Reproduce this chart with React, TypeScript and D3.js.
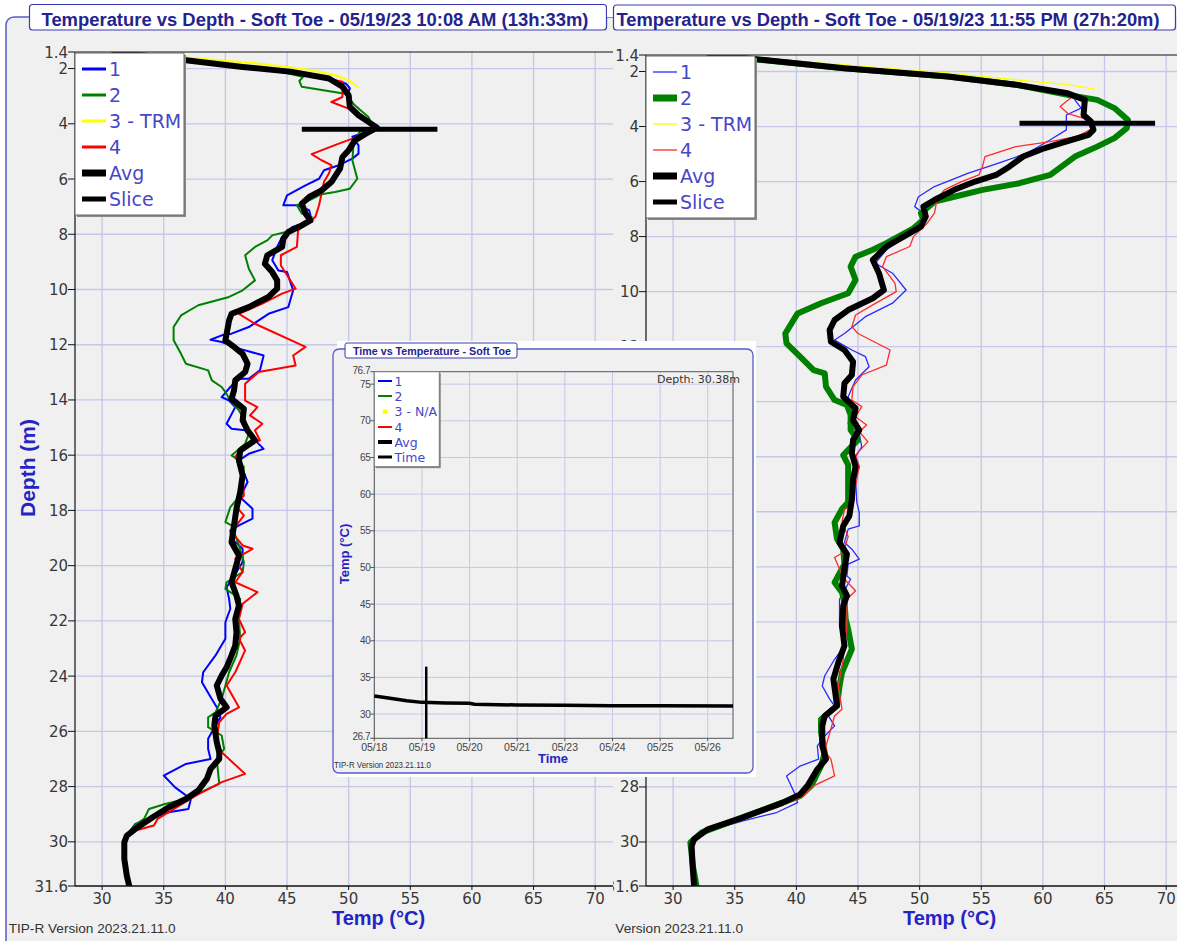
import React from "react";
import * as d3 from "d3";

type Pt = [number, number]; // [depth (m), temp (°C)]

// ---------- axis ticks ----------
const depthTicks = [1.4, 2, 4, 6, 8, 10, 12, 14, 16, 18, 20, 22, 24, 26, 28, 30, 31.6];
const tempTicks = [30, 35, 40, 45, 50, 55, 60, 65, 70];
const insetTempTicks = [26.7, 30, 35, 40, 45, 50, 55, 60, 65, 70, 75, 76.7];
const insetDateLabels = ["05/18", "05/19", "05/20", "05/21", "05/23", "05/24", "05/25", "05/26"];

// ---------- left profile : 05/19/23 10:08 AM ----------
const left1: Pt[] = [[1.4,31],[1.7,36.8],[1.94,41.4],[2.12,45.4],[2.36,48.4],[2.55,49.8],[2.72,50.1],[2.97,49.9],[3.3,50],[3.69,50.8],[3.93,51.6],[4.14,52.3],[4.36,51],[4.47,50.3],[4.78,50.8],[5.08,50.8],[5.26,50.3],[5.5,49.2],[5.68,48],[5.99,47.6],[6.23,46.5],[6.59,45],[6.95,44.7],[6.95,45.8],[7.13,46.8],[7.5,47],[7.74,45.4],[8.1,44.6],[8.46,44.2],[8.94,43.8],[9.31,44.3],[9.37,45],[10.03,45.5],[10.64,45.1],[10.88,43.5],[11.36,41.9],[11.6,40.5],[11.66,39.7],[11.82,38.8],[11.9,39.7],[12.14,41.1],[12.39,43.1],[12.93,42.8],[13.23,41.9],[13.23,41.1],[13.53,40.4],[13.9,39.7],[14.02,40.3],[14.26,40.8],[14.86,40.1],[15.04,40.5],[15.1,41.6],[15.41,42.3],[15.77,43.1],[15.95,41.9],[16.19,41.1],[16.97,41.8],[17.52,41.2],[17.94,42.2],[18.3,42.2],[18.54,41.1],[18.72,40.4],[19.03,40.5],[19.39,41.4],[19.87,41.4],[20.23,40.9],[20.78,40.1],[21.2,40.3],[21.56,40.4],[22.05,40],[22.65,40],[23.25,39.2],[23.86,38.2],[24.22,38.1],[24.76,38.8],[25.13,39.3],[25.49,39.6],[25.79,39.2],[26.27,38.6],[26.64,38.6],[27,38.8],[27.18,36.8],[27.6,35],[28.02,35.9],[28.45,37.2],[28.81,37],[28.93,35.4],[29.11,34.1],[29.35,32.7],[29.65,32.2],[29.9,31.9],[30.3,31.8],[31,32],[31.6,32.2]];
const left2: Pt[] = [[1.4,31],[1.7,36.5],[1.94,41],[2.12,44.5],[2.3,46.3],[2.45,46],[2.66,46.2],[2.91,49.7],[3.33,50.5],[3.75,51.6],[4.11,52],[4.29,50.9],[4.72,50.4],[5.32,50.3],[5.99,50.7],[6.35,50.1],[6.47,48.9],[6.55,47.8],[6.77,46.8],[6.95,45.8],[7.25,46.2],[7.37,47],[7.68,46.2],[7.92,44.9],[8.04,43.8],[8.22,43.4],[8.46,42.4],[8.76,41.6],[9.25,41.9],[9.67,42.4],[10.03,41.4],[10.27,40.3],[10.57,37.8],[10.94,36.4],[11.36,35.8],[11.84,35.8],[12.33,36.4],[12.69,36.8],[12.93,38.6],[13.29,38.9],[13.53,39.7],[13.78,40.1],[13.96,40.3],[14.38,41.1],[14.74,41.6],[15.22,41.9],[15.59,41.6],[16.01,40.5],[16.19,41.1],[16.43,41.5],[16.85,41.4],[17.46,41.2],[17.88,40.4],[18.42,40],[18.54,40.5],[19.27,41.1],[19.87,41.5],[20.23,41.4],[20.6,40.1],[20.84,40],[21.2,41.2],[21.93,41.1],[22.65,41.2],[23.25,40.9],[23.86,40.3],[24.34,40],[24.82,39.7],[25.31,39.2],[25.49,38.6],[25.85,38.6],[26.15,39.7],[26.64,39.9],[27,39.3],[27.9,39.5],[28.08,38.6],[28.45,36.8],[28.63,35.1],[28.81,33.8],[29.17,33.4],[29.41,32.6],[29.65,32.2],[29.9,31.9],[30.3,31.8],[31,32],[31.6,32.2]];
const left3: Pt[] = [[1.4,31],[1.6,36.8],[1.82,42.7],[2.04,46.8],[2.24,48.9],[2.42,50],[2.66,50.7]];
const left4: Pt[] = [[1.4,31],[1.7,36.8],[1.94,41.4],[2.12,45.2],[2.36,48.2],[2.48,49.5],[3.03,49.5],[3.21,48.6],[3.45,50],[3.75,50.8],[4.17,52.4],[4.41,51.1],[4.72,49.2],[5.1,47],[5.32,47.8],[5.5,48.6],[5.8,48.4],[6.1,48],[6.53,47.8],[6.95,47.6],[7.37,47.3],[7.68,46.4],[7.86,45.9],[8.46,45.8],[8.76,44.5],[9.13,44.5],[9.55,45.1],[9.97,45.7],[10.15,44.6],[10.51,43],[10.88,41.1],[11.24,42.4],[12.08,46.5],[12.39,45.5],[12.75,45.7],[12.99,42.7],[13.41,41.6],[14.02,41.6],[14.26,42.6],[14.56,42],[14.86,43],[15.1,42.4],[15.46,42.8],[15.71,41.4],[16.07,40.8],[16.55,41.4],[16.85,41.4],[17.46,41.5],[17.82,40.8],[18.18,41.5],[18.78,40.5],[19.27,41.4],[19.39,42.2],[19.75,40.8],[20.23,41.4],[20.6,40.8],[20.96,42.6],[21.38,41.4],[21.93,41.1],[22.41,41.6],[22.65,41.1],[23.07,41.6],[23.86,40.8],[24.34,40.1],[25.13,41.1],[25.37,40.1],[25.67,39.5],[26.27,39.3],[26.76,39.7],[27.54,41.6],[27.84,39.7],[28.33,37.6],[29.17,34.5],[29.41,34.2],[29.59,32.7],[29.78,32],[30.3,31.8],[31,32],[31.6,32.2]];
const leftAvg: Pt[] = [[1.4,31],[1.7,36.8],[1.94,41.4],[2.12,45.4],[2.36,48.4],[2.66,49.5],[2.97,50],[3.39,50.1],[3.69,50.8],[3.93,51.6],[4.14,52.3],[4.36,51.4],[4.6,50.5],[4.96,50],[5.2,49.5],[5.62,49.3],[6.11,48.6],[6.41,47.8],[6.65,46.8],[6.89,46.2],[7.25,46.5],[7.5,46.9],[7.68,46.2],[7.92,45.1],[8.16,44.7],[8.46,44.6],[8.76,43.4],[9.07,43.2],[9.37,43.8],[9.67,44.2],[9.97,44.2],[10.27,43.5],[10.64,41.9],[10.88,40.5],[11.12,40.3],[11.6,40.1],[11.84,40],[12.08,40.7],[12.33,41.4],[12.69,41.8],[12.99,41.6],[13.29,40.8],[13.65,40.7],[13.96,40.5],[14.32,41.5],[14.74,41.4],[15.1,41.8],[15.46,42.4],[15.83,41.2],[16.19,41.1],[16.73,41.4],[17.34,41.2],[17.94,40.9],[18.54,40.7],[19.15,40.5],[19.63,41.1],[20.11,40.8],[20.6,40.5],[21.08,40.9],[21.44,41.1],[21.93,40.8],[22.41,40.9],[22.89,40.8],[23.25,40.5],[23.68,40.1],[23.98,39.7],[24.34,39.3],[24.82,39.6],[25.13,40.1],[25.43,39.2],[25.79,39.1],[26.39,39.3],[26.76,39.5],[27,39.5],[27.36,38.8],[27.72,38.5],[28.14,37.8],[28.45,36.8],[28.75,35.4],[29.11,34.1],[29.53,32.7],[29.78,32],[30.02,31.8],[30.62,31.8],[31.22,32],[31.6,32.2]];
const leftSlice = [4.2, 46.2, 57.2]; // depth, temp from, temp to

// ---------- right profile : 05/19/23 11:55 PM ----------
const right1: Pt[] = [[1.4,33],[1.88,43.9],[2.18,52.3],[2.48,57.8],[2.79,62],[2.91,62.4],[3.33,63.1],[3.58,61.9],[4.12,61.9],[4.48,60.6],[4.97,58.7],[5.33,56.4],[5.7,53.9],[6.18,51.2],[6.55,49.9],[6.91,49.6],[7.15,50.3],[7.52,50.1],[8.06,48.7],[8.48,47.3],[8.97,46.4],[9.33,47.8],[9.94,48.9],[10.42,47.8],[10.91,45.6],[11.52,43.9],[11.76,43.1],[12.12,44.5],[12.36,45.6],[12.73,45.9],[13.21,44.8],[13.82,44.2],[14.3,44.5],[14.79,44.2],[15.15,45.1],[15.64,45.3],[16,44.8],[16.36,45.1],[16.81,44.8],[17.66,44.9],[18.02,45.1],[18.51,45.1],[18.63,44.2],[19.12,43.9],[19.36,44.5],[19.72,45.1],[19.9,44.2],[20.33,44.1],[20.45,44.4],[21.18,43.5],[22.15,43.5],[22.87,43.9],[23.36,43.1],[23.96,42.3],[24.33,42.1],[24.81,42.7],[25.05,43.1],[25.42,42.6],[25.78,43.1],[26.15,42.3],[26.51,41.7],[26.99,41.8],[27.24,40.3],[27.6,39.2],[28.27,39.9],[28.57,40.1],[28.93,38.4],[29.24,35.6],[29.6,32.8],[29.9,31.7],[30.2,31.5],[31,31.6],[31.6,31.7]];
const right2: Pt[] = [[1.4,33],[1.88,43.9],[2.18,52.3],[2.48,57.8],[2.85,62],[3.03,64.4],[3.33,65.8],[3.76,66.9],[4.06,66.8],[4.42,65.8],[4.73,64.4],[5.09,62.6],[5.76,60.6],[6.06,58.1],[6.3,55.1],[6.55,52.8],[6.73,51.2],[7.15,50.1],[7.39,50.3],[7.7,49.5],[8.24,47.3],[8.48,46.2],[8.73,44.8],[9.09,44.4],[9.58,44.8],[10.06,44.2],[10.42,42],[10.79,40.1],[11.52,39.1],[11.88,39.2],[12.36,40.3],[12.85,41.4],[12.97,42.3],[13.45,42.4],[13.94,43.1],[14.12,44.1],[14.48,44.4],[15.03,44.4],[15.39,45],[15.94,43.8],[16.3,44.2],[16.69,44.2],[17.66,44.2],[17.9,43.7],[18.39,43.1],[18.99,43.3],[19.36,43.8],[19.9,43.9],[20.57,43.1],[20.93,43.7],[21.3,43.9],[21.9,44],[22.27,44.2],[22.99,44.5],[23.84,43.7],[24.33,43.5],[25.05,43.3],[25.54,42],[26.02,42],[26.75,42.3],[27.24,42],[27.96,41.2],[28.33,40.3],[28.75,37.8],[29.24,34.8],[29.66,32.3],[30.02,31.4],[30.87,31.6],[31.6,31.9]];
const right3: Pt[] = [[1.4,33],[1.76,43.9],[2.06,52.3],[2.3,57.8],[2.48,62],[2.64,64.2]];
const right4: Pt[] = [[1.4,33],[1.88,43.9],[2.18,52.3],[2.48,57.8],[2.79,62],[2.91,62.4],[3.27,61.4],[3.52,62],[3.76,63.7],[4.1,63.9],[4.36,62.8],[4.55,60.6],[4.73,57.8],[5.09,55.3],[5.45,55.1],[5.76,54.8],[6,53.4],[6.3,52],[6.67,51.4],[7.15,51.2],[7.52,50.6],[8,49.5],[8.36,49.2],[8.73,47.3],[9.09,47],[9.7,48],[10,48.1],[10.48,46.2],[10.85,44.8],[11.27,44.5],[11.52,45],[12.12,47.6],[12.67,47.3],[13.03,45.3],[13.45,44.6],[13.94,44.5],[14.18,45.3],[14.55,44.8],[14.85,45.7],[15.09,45.1],[15.45,45.8],[15.94,44.8],[16.36,45.1],[17.05,44.8],[17.78,44.6],[17.9,43.9],[18.39,43.7],[18.9,44.2],[19.48,43.8],[19.66,43.1],[20.08,43.5],[20.45,43.9],[20.87,44.8],[21.18,44.1],[22.15,44.1],[23.36,43.8],[24.33,43.4],[25.18,43.7],[25.42,43.1],[26.51,42.4],[26.75,42.4],[26.99,42.8],[27.6,43.1],[27.96,41.4],[28.33,40.6],[28.75,38.4],[29.18,35.6],[29.6,32.8],[29.9,31.7],[30.2,31.5],[31,31.6],[31.6,31.7]];
const rightAvg: Pt[] = [[1.4,33],[1.55,36.7],[1.88,43.9],[2.18,52.3],[2.48,57.8],[2.79,62],[3.03,63.4],[3.58,63.3],[3.82,63.9],[4.12,64.1],[4.3,63.7],[4.61,61.4],[4.79,60.1],[5.09,58.4],[5.45,57.3],[5.76,56.2],[6,54.5],[6.3,52.8],[6.67,51.2],[6.91,50.3],[7.27,50.5],[7.64,50.1],[8,48.7],[8.36,47.3],[8.85,46.2],[9.33,46.7],[9.94,47.1],[10.24,46.2],[10.67,44.2],[11.03,43.1],[11.39,42.7],[11.82,42.8],[12.12,43.9],[12.55,44.6],[13.03,44.5],[13.33,43.9],[13.82,43.8],[14.24,44.8],[14.67,44.6],[15.03,45.1],[15.39,44.6],[15.88,44.5],[16.36,44.8],[16.81,44.6],[17.54,44.5],[18.15,44.3],[18.51,43.8],[19.12,43.5],[19.54,44.1],[20.08,43.9],[20.69,43.7],[21.05,44.1],[21.42,43.8],[22.15,43.7],[22.87,43.9],[23.48,43.4],[24.08,43],[25.05,43.3],[25.42,42.3],[25.78,42.1],[26.51,42.1],[26.99,42.4],[27.36,41.7],[27.96,40.9],[28.27,40.3],[28.57,38.9],[29.12,35.6],[29.54,32.8],[29.9,31.7],[30.15,31.5],[30.99,31.6],[31.6,31.7]];
const rightSlice = [3.88, 58.1, 69.1];

// ---------- inset : time vs temperature at 30.38 m ----------
const insetTime = [0, 0.33, 0.68, 1.0, 1.5, 2.0, 2.1, 3.0, 4.0, 5.0, 6.0, 7.53]; // in date-tick steps from 05/18
const insetAvg = [32.47, 32.15, 31.83, 31.6, 31.5, 31.47, 31.34, 31.24, 31.2, 31.15, 31.15, 31.12];
const insetCursor = [1.09, 26.7, 36.47]; // time, temp from, temp to

// ---------- layout ----------
const W = 1177;
const H = 941;
const PL = 75;
const PR = 626;
const PB = 886;
const TEMP_DOMAIN: [number, number] = [27.8, 72.5];
const GRID = "#c6c6e8";
const FRAME = "#5a5ac6";
const TICK_FONT = "'DejaVu Sans', Verdana, sans-serif";
const BOLD_FONT = "'Liberation Sans', Arial, sans-serif";

type Series = { name: string; data?: Pt[]; color: string; width: number; legendWidth: number };

function DepthPanel({ dx, top, series, slice, id, versionX }: { dx: number; top: number; series: Series[]; slice: number[]; id: string; versionX: number }) {
  const x = d3.scaleLinear().domain(TEMP_DOMAIN).range([PL + dx, PR + dx]);
  const y = d3.scaleLinear().domain([depthTicks[0], depthTicks[depthTicks.length - 1]]).range([top, PB]);
  const line = d3.line<Pt>().x((d) => x(d[1])).y((d) => y(d[0]));
  const gridDepths = depthTicks.filter((d) => Number.isInteger(d));

  return (
    <g>
      <defs>
        <clipPath id={id}>
          <rect x={PL + dx} y={top} width={PR - PL} height={PB - top} />
        </clipPath>
      </defs>
      {/* grid */}
      {tempTicks.map((t) => (
        <line key={"gx" + t} x1={x(t)} x2={x(t)} y1={top} y2={PB} stroke={GRID} strokeWidth={1.3} />
      ))}
      {gridDepths.map((d) => (
        <line key={"gy" + d} x1={PL + dx} x2={PR + dx} y1={y(d)} y2={y(d)} stroke={GRID} strokeWidth={1.3} />
      ))}
      {/* series */}
      <g clipPath={`url(#${id})`}>
        {series.filter((s) => s.data).map((s) => (
          <path key={s.name} d={line(s.data as Pt[]) || ""} fill="none" stroke={s.color} strokeWidth={s.width} strokeLinejoin="round" strokeLinecap="round" />
        ))}
        <line x1={x(slice[1])} x2={x(slice[2])} y1={y(slice[0])} y2={y(slice[0])} stroke="#000" strokeWidth={5} />
      </g>
      {/* axes */}
      <line x1={PL + dx} x2={PR + dx} y1={top} y2={top} stroke="#111" strokeWidth={1} />
      <line x1={PL + dx} x2={PL + dx} y1={top} y2={PB} stroke="#111" strokeWidth={1.2} />
      <line x1={PL + dx} x2={PR + dx} y1={PB} y2={PB} stroke="#111" strokeWidth={1.4} />
      {depthTicks.map((d) => (
        <g key={"ty" + d}>
          <line x1={PL + dx - 7} x2={PL + dx} y1={y(d)} y2={y(d)} stroke="#111" />
          <text x={PL + dx - 7} y={y(d) + 5.5} textAnchor="end" fontFamily={TICK_FONT} fontSize={15} fill="#383838">
            {d}
          </text>
        </g>
      ))}
      {tempTicks.map((t) => (
        <g key={"tx" + t}>
          <line x1={x(t)} x2={x(t)} y1={PB} y2={PB + 4} stroke="#111" />
          <text x={x(t)} y={PB + 18} textAnchor="middle" fontFamily={TICK_FONT} fontSize={15} fill="#383838">
            {t}
          </text>
        </g>
      ))}
      <text transform={`translate(${35 + dx},468) rotate(-90)`} textAnchor="middle" fontFamily={BOLD_FONT} fontWeight="bold" fontSize={21} fill="#2424c2">
        Depth (m)
      </text>
      <text x={378.5 + dx} y={925} textAnchor="middle" fontFamily={BOLD_FONT} fontWeight="bold" fontSize={20} fill="#2424c2">
        Temp (°C)
      </text>
      <text x={versionX} y={933} fontFamily={BOLD_FONT} fontSize={13.5} fill="#333" textLength={167} lengthAdjust="spacingAndGlyphs">
        TIP-R Version 2023.21.11.0
      </text>
      {/* legend */}
      <rect x={PL + dx + 2} y={top + 3} width={109} height={162} fill="#8a8a8a" />
      <rect x={PL + dx} y={top + 1} width={109} height={162} fill="#fff" stroke="#666" strokeWidth={1} />
      {series.map((s, i) => {
        const ry = top + 17 + i * 26;
        return (
          <g key={"lg" + s.name}>
            <line x1={PL + dx + 7} x2={PL + dx + 31} y1={ry} y2={ry} stroke={s.color} strokeWidth={s.legendWidth} />
            <text x={PL + dx + 34} y={ry + 7} fontFamily={TICK_FONT} fontSize={19} fill="#4747c6">
              {s.name}
            </text>
          </g>
        );
      })}
    </g>
  );
}

function TitleBox({ x, y, w, h, tx, ty, tl, text }: { x: number; y: number; w: number; h: number; tx: number; ty: number; tl: number; text: string }) {
  return (
    <g>
      <rect x={x} y={y} width={w} height={h} rx={3} fill="#fff" stroke="#3a3ab4" strokeWidth={1.2} />
      <text x={tx} y={ty} fontFamily={BOLD_FONT} fontWeight="bold" fontSize={18} fill="#24238e" textLength={tl} lengthAdjust="spacingAndGlyphs">
        {text}
      </text>
    </g>
  );
}

function Inset() {
  const L = 374.3, R = 733, T = 371.7, B = 738.3;
  const x = d3.scaleLinear().domain([0, 7.53]).range([L, R]);
  const y = d3.scaleLinear().domain([insetTempTicks[0], insetTempTicks[insetTempTicks.length - 1]]).range([B, T]);
  const line = d3.line<number>().x((_, i) => x(insetTime[i])).y((d) => y(d));
  const gridTemps = insetTempTicks.filter((t) => t % 5 === 0);
  const legend = [
    { name: "1", color: "#0000ff", w: 2, dot: false },
    { name: "2", color: "#008000", w: 2, dot: false },
    { name: "3 - N/A", color: "#ffff00", w: 0, dot: true },
    { name: "4", color: "#ff0000", w: 2, dot: false },
    { name: "Avg", color: "#000", w: 4, dot: false },
    { name: "Time", color: "#000", w: 3, dot: false },
  ];
  const legendY = [381, 396, 411.5, 427, 442, 457];
  const lastT = insetTempTicks.length - 1;
  return (
    <g>
      <rect x={337} y={341} width={419} height={436} fill="#fff" />
      <rect x={333} y={349} width={420} height={424} rx={6} fill="#f0f0f0" stroke={FRAME} strokeWidth={1.3} />
      <rect x={345} y={343} width={172} height={15} rx={2} fill="#fff" stroke="#3a3ab4" strokeWidth={1} />
      <text x={353} y={354.5} fontFamily={BOLD_FONT} fontWeight="bold" fontSize={10.5} fill="#24238e" textLength={158} lengthAdjust="spacingAndGlyphs">
        Time vs Temperature - Soft Toe
      </text>
      {insetDateLabels.map((lab, i) => (
        <line key={"gx" + lab} x1={x(i)} x2={x(i)} y1={T} y2={B} stroke={GRID} strokeWidth={1} />
      ))}
      {gridTemps.map((t) => (
        <line key={"gy" + t} x1={L} x2={R} y1={y(t)} y2={y(t)} stroke={GRID} strokeWidth={1} />
      ))}
      <rect x={L} y={T} width={R - L} height={B - T} fill="none" stroke="#555" strokeWidth={1} />
      <path d={line(insetAvg) || ""} fill="none" stroke="#000" strokeWidth={3.5} />
      <line x1={x(insetCursor[0])} x2={x(insetCursor[0])} y1={y(insetCursor[1])} y2={y(insetCursor[2])} stroke="#000" strokeWidth={2.5} />
      {insetTempTicks.map((t, i) => (
        <g key={"ty" + t}>
          <line x1={L - 4} x2={L} y1={y(t)} y2={y(t)} stroke="#555" />
          <text x={L - 4} y={y(t) + (i === 0 ? 1.5 : i === lastT ? 2.5 : 3.5)} textAnchor="end" fontFamily={BOLD_FONT} fontSize={10} fill="#444" letterSpacing={-0.4}>
            {t}
          </text>
        </g>
      ))}
      {insetDateLabels.map((lab, i) => (
        <g key={"tx" + lab}>
          <line x1={x(i)} x2={x(i)} y1={B} y2={B + 3} stroke="#555" />
          <text x={x(i)} y={B + 12.5} textAnchor="middle" fontFamily={BOLD_FONT} fontSize={10.5} fill="#444">
            {lab}
          </text>
        </g>
      ))}
      <text x={740} y={382.5} textAnchor="end" fontFamily={TICK_FONT} fontSize={11} fill="#333">
        Depth: 30.38m
      </text>
      <text transform="translate(349,554) rotate(-90)" textAnchor="middle" fontFamily={BOLD_FONT} fontWeight="bold" fontSize={13} fill="#2424c2">
        Temp (°C)
      </text>
      <text x={553} y={763} textAnchor="middle" fontFamily={BOLD_FONT} fontWeight="bold" fontSize={13} fill="#2424c2">
        Time
      </text>
      <text x={334} y={768} fontFamily={BOLD_FONT} fontSize={9} fill="#333" textLength={97} lengthAdjust="spacingAndGlyphs">
        TIP-R Version 2023.21.11.0
      </text>
      {/* legend */}
      <rect x={L + 1.5} y={T + 1.5} width={65} height={95} fill="#8a8a8a" />
      <rect x={L} y={T} width={65} height={95} fill="#fff" stroke="#777" strokeWidth={1} />
      {legend.map((s, i) => (
        <g key={"il" + s.name}>
          {s.dot ? (
            <circle cx={385} cy={legendY[i]} r={2.5} fill={s.color} />
          ) : (
            <line x1={378} x2={392} y1={legendY[i]} y2={legendY[i]} stroke={s.color} strokeWidth={s.w} />
          )}
          <text x={394.5} y={legendY[i] + 4.5} fontFamily={TICK_FONT} fontSize={12.5} fill="#4747c6">
            {s.name}
          </text>
        </g>
      ))}
    </g>
  );
}

export default function App() {
  const leftSeries: Series[] = [
    { name: "1", data: left1, color: "#0000ff", width: 2, legendWidth: 3 },
    { name: "2", data: left2, color: "#008000", width: 2, legendWidth: 3 },
    { name: "3 - TRM", data: left3, color: "#ffff00", width: 2, legendWidth: 3 },
    { name: "4", data: left4, color: "#ff0000", width: 2, legendWidth: 3 },
    { name: "Avg", data: leftAvg, color: "#000", width: 6, legendWidth: 7 },
    { name: "Slice", color: "#000", width: 5, legendWidth: 5 },
  ];
  const rightSeries: Series[] = [
    { name: "1", data: right1, color: "#2a2aff", width: 1.3, legendWidth: 1.3 },
    { name: "2", data: right2, color: "#008000", width: 6, legendWidth: 7 },
    { name: "3 - TRM", data: right3, color: "#ffff00", width: 1.3, legendWidth: 1.3 },
    { name: "4", data: right4, color: "#ff2a2a", width: 1.3, legendWidth: 1.3 },
    { name: "Avg", data: rightAvg, color: "#000", width: 6, legendWidth: 7 },
    { name: "Slice", color: "#000", width: 5, legendWidth: 5 },
  ];

  return (
    <svg width={W} height={H} style={{ position: "absolute", left: 0, top: 0, background: "#fff" }}>
      <defs>
        <clipPath id="rightClip">
          <rect x={613} y={0} width={W - 613} height={H} />
        </clipPath>
      </defs>
      {/* left panel */}
      <rect x={6} y={17} width={700} height={960} rx={8} fill="#f0f0f0" stroke={FRAME} strokeWidth={1.5} />
      <DepthPanel dx={0} top={52} series={leftSeries} slice={leftSlice} id="leftPlot" versionX={8.7} />
      <TitleBox x={29.5} y={4.5} w={577} h={25.5} tx={41.5} ty={25.5} tl={547} text="Temperature vs Depth - Soft Toe - 05/19/23 10:08 AM (13h:33m)" />
      {/* right panel */}
      <g clipPath="url(#rightClip)">
        <rect x={613} y={17} width={W - 613} height={H} fill="#f0f0f0" />
        <DepthPanel dx={571} top={55} series={rightSeries} slice={rightSlice} id="rightPlot" versionX={576} />
      </g>
      <rect x={607} y={0} width={6} height={17} fill="#fff" />
      <TitleBox x={613.5} y={5} w={562} h={25} tx={616.5} ty={26} tl={543} text="Temperature vs Depth - Soft Toe - 05/19/23 11:55 PM (27h:20m)" />
      {/* inset */}
      <Inset />
    </svg>
  );
}
